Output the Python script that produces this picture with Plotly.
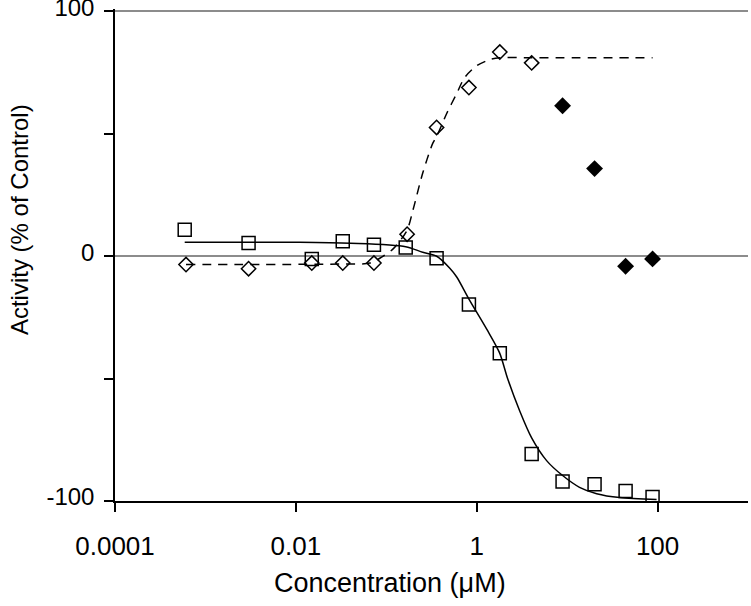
import plotly.graph_objects as go

# Squares (open) - measured data
sq_x = [0.00059, 0.0030, 0.015, 0.033, 0.073, 0.164, 0.36, 0.82, 1.80, 4.05, 8.9, 20.1, 44.3, 88.0]
sq_y = [10.8, 5.4, -1.1, 6.1, 4.7, 3.6, -0.8, -19.7, -39.6, -80.8, -92.0, -93.2, -95.9, -98.4]

# Diamonds (open)
di_x = [0.00061, 0.0030, 0.015, 0.033, 0.073, 0.17, 0.36, 0.82, 1.80, 4.05]
di_y = [-3.4, -5.1, -2.8, -2.8, -2.8, 9.0, 52.6, 68.9, 83.4, 79.0]

# Diamonds (filled)
fd_x = [8.9, 20.1, 44.3, 88.0]
fd_y = [61.5, 35.8, -4.1, -1.1]

# Solid fitted curve
fit1_x = [0.00059, 0.011, 0.040, 0.164, 0.253, 0.361, 0.504, 0.601, 0.817, 1.29, 1.79,
          2.20, 2.99, 4.05, 5.93, 8.91, 13.7, 21.2, 38.0, 97.5]
fit1_y = [5.7, 5.7, 5.3, 3.9, 1.6, 0.0, -4.9, -8.5, -17.4, -29.8, -39.5,
          -50.1, -63.2, -74.2, -83.5, -89.6, -94.4, -97.0, -98.6, -99.4]

# Dashed fitted curve
fit2_x = [0.00061, 0.0306, 0.0658, 0.0915, 0.119, 0.169, 0.198, 0.253, 0.327, 0.361,
          0.467, 0.601, 0.736, 1.0, 1.39, 1.79, 3.85, 88.0]
fit2_y = [-3.4, -3.2, -2.8, -0.1, 3.0, 10.5, 19.1, 34.0, 46.2, 49.0,
          58.4, 66.5, 73.0, 77.8, 80.3, 81.1, 81.1, 81.1]

x_tickvals = [0.0001, 0.01, 1, 100]
x_ticktext = ["0.0001", "0.01", "1", "100"]
y_tickvals = [-100, 0, 100]
y_ticktext = ["-100", "0", "100"]

FONT = "Liberation Sans, Arial, sans-serif"

fig = go.Figure()

fig.add_trace(go.Scatter(x=fit1_x, y=fit1_y, mode="lines",
                         line=dict(color="black", width=1.5, shape="spline", smoothing=0.8),
                         showlegend=False, hoverinfo="skip"))
fig.add_trace(go.Scatter(x=fit2_x, y=fit2_y, mode="lines",
                         line=dict(color="black", width=1.5, dash="9px,7px", shape="spline", smoothing=0.8),
                         showlegend=False, hoverinfo="skip"))
fig.add_trace(go.Scatter(x=sq_x, y=sq_y, mode="markers",
                         marker=dict(symbol="square-open", size=13, color="black", line=dict(width=1.5)),
                         showlegend=False))
fig.add_trace(go.Scatter(x=di_x, y=di_y, mode="markers",
                         marker=dict(symbol="diamond-open", size=11, color="black", line=dict(width=1.5)),
                         showlegend=False))
fig.add_trace(go.Scatter(x=fd_x, y=fd_y, mode="markers",
                         marker=dict(symbol="diamond", size=13, color="black", line=dict(width=0)),
                         showlegend=False))

fig.update_layout(
    width=751, height=606,
    margin=dict(l=115, r=3, t=9, b=105, autoexpand=False),
    plot_bgcolor="white", paper_bgcolor="white",
    font=dict(family=FONT, size=24, color="black"),
    showlegend=False,
    xaxis=dict(type="log", range=[-4, 3], tickvals=x_tickvals, ticktext=x_ticktext,
               showgrid=False, zeroline=False, showline=True, linecolor="black", linewidth=1.5,
               ticks="outside", ticklen=9, tickwidth=1.5, tickcolor="black", automargin=False,
               ticklabelstandoff=12, tickfont=dict(size=26)),
    yaxis=dict(range=[-100, 101], tickvals=y_tickvals, ticktext=y_ticktext,
               showgrid=True, gridcolor="#8c8c8c", gridwidth=1.5, zeroline=False,
               showline=True, linecolor="black", linewidth=1.5,
               ticks="outside", ticklen=9, tickwidth=1.5, tickcolor="black", automargin=False,
               minor=dict(dtick=50, tick0=0, ticks="outside", ticklen=9, tickwidth=1.5,
                          tickcolor="black", showgrid=False),
               ticklabelstandoff=5, ticklabelshift=-4, ticklabeloverflow="allow",
               tickfont=dict(size=24)),
    annotations=[
        dict(text="Activity (% of Control)", xref="paper", yref="paper",
             x=-0.1517, y=0.573, xanchor="center", yanchor="middle", textangle=-90,
             showarrow=False, font=dict(size=24)),
        dict(text="Concentration (\u03bcM)", xref="paper", yref="paper",
             x=0.434, y=-0.1668, xanchor="center", yanchor="middle",
             showarrow=False, font=dict(size=27)),
    ],
)

fig.write_html("out.html", config={"displayModeBar": False},
               post_script="document.body.style.margin='0px';")
